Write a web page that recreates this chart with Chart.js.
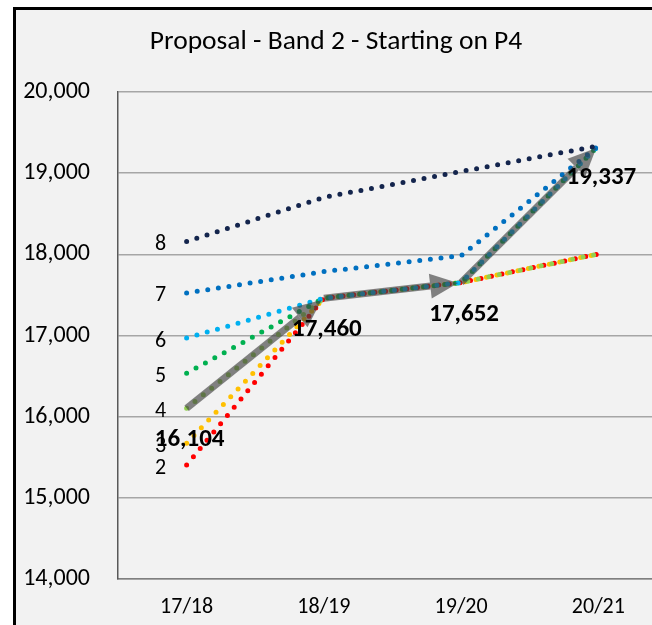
<!DOCTYPE html>
<html>
<head>
<meta charset="utf-8">
<script src="https://cdn.jsdelivr.net/npm/chart.js@4/dist/chart.umd.min.js"></script>
<style>
  html, body { margin: 0; padding: 0; background: #ffffff; width: 652px; height: 625px; overflow: hidden; }
  #frame { position: absolute; left: 13px; top: 7px; width: 700px; height: 700px; background: #f2f2f2;
           border-left: 3px solid #000; border-top: 3px solid #000; box-sizing: border-box; }
  #wrap { position: absolute; left: 0; top: 0; width: 700px; height: 625px; }
</style>
</head>
<body>
<div id="frame"></div>
<div id="wrap"><canvas id="c" width="700" height="625"></canvas></div>
<script>
const chartTitle = 'Proposal - Band 2 - Starting on P4';
const categories = ['17/18', '18/19', '19/20', '20/21'];
const point2 = [15404, 17460, 17652, 18005];
const point3 = [15671, 17460, 17652, 18005];
const point4 = [16104, 17460, 17652, 18005];
const point5 = [16536, 17460, 17652, 19337];
const point6 = [16968, 17460, 17652, 19337];
const point7 = [17524, 17787, 17983, 19337];
const point8 = [18157, 18702, 19020, 19337];
const progression = [16104, 17460, 17652, 19337];
const seriesNames = ['2', '3', '4', '5', '6', '7', '8'];
const seriesColors = ['#ff0000', '#ffc000', '#92d050', '#00b050', '#00b0f0', '#0070c0', '#14254d'];
const yTickValues = [14000, 15000, 16000, 17000, 18000, 19000, 20000];

const seriesData = [point2, point3, point4, point5, point6, point7, point8];
const FONT = 'Carlito, Lato, "Liberation Sans", sans-serif';

const datasets = seriesData.map((d, i) => ({
  label: seriesNames[i],
  data: d,
  order: seriesData.length - i,
  borderColor: seriesColors[i],
  borderWidth: 5,
  borderDash: [0, 10.7],
  borderCapStyle: 'round',
  pointRadius: 0,
  tension: 0,
  fill: false
}));

const overlayPlugin = {
  id: 'overlay',
  afterDatasetsDraw(chart) {
    const ctx = chart.ctx;
    const xs = chart.scales.x, ys = chart.scales.y;
    const pts = progression.map((v, i) => ({ x: xs.getPixelForValue(i), y: ys.getPixelForValue(v) }));
    ctx.save();
    const col = 'rgba(64,64,64,0.64)';
    const headLen = 28, headHalf = 12.5, gap = 3;
    for (let i = 0; i < pts.length - 1; i++) {
      const a = pts[i], b = pts[i + 1];
      const dx = b.x - a.x, dy = b.y - a.y;
      const L = Math.hypot(dx, dy);
      const ux = dx / L, uy = dy / L;
      const tip = { x: b.x - ux * gap, y: b.y - uy * gap };
      const base = { x: tip.x - ux * headLen, y: tip.y - uy * headLen };
      ctx.strokeStyle = col;
      ctx.lineWidth = 7;
      ctx.lineCap = 'butt';
      ctx.beginPath();
      ctx.moveTo(a.x, a.y);
      ctx.lineTo(base.x, base.y);
      ctx.stroke();
      ctx.fillStyle = col;
      ctx.beginPath();
      ctx.moveTo(tip.x, tip.y);
      ctx.lineTo(base.x - uy * headHalf, base.y + ux * headHalf);
      ctx.lineTo(base.x + uy * headHalf, base.y - ux * headHalf);
      ctx.closePath();
      ctx.fill();
    }
    ctx.fillStyle = '#000';
    ctx.textAlign = 'center';
    ctx.textBaseline = 'middle';
    ctx.font = '22px ' + FONT;
    seriesData.forEach((d, i) => {
      const x = xs.getPixelForValue(0) - 26;
      const y = ys.getPixelForValue(d[0]) + 3;
      ctx.fillText(seriesNames[i], x, y);
    });
    ctx.font = 'bold 25px ' + FONT;
    progression.forEach((v, i) => {
      ctx.fillText(v.toLocaleString('en-US'), pts[i].x + 3, pts[i].y + 32);
    });
    ctx.font = '27.5px ' + FONT;
    ctx.fillText(chartTitle, 336, 42);
    ctx.restore();
  }
};

new Chart(document.getElementById('c'), {
  type: 'line',
  data: { labels: categories, datasets },
  options: {
    responsive: false,
    animation: false,
    layout: { padding: { top: 92, right: 33, bottom: 0, left: 0 } },
    plugins: { legend: { display: false }, tooltip: { enabled: false }, title: { display: false } },
    scales: {
      x: {
        type: 'category',
        offset: true,
        grid: { display: false, drawTicks: false },
        border: { display: true, color: '#7f7f7f', width: 1.5 },
        ticks: { color: '#000', font: { size: 22, family: FONT }, padding: 15, maxRotation: 0 },
        afterFit(scale) { scale.height = 46; }
      },
      y: {
        min: 14000, max: 20000,
        afterBuildTicks(scale) { scale.ticks = yTickValues.map(v => ({ value: v })); },
        grid: { color: '#a6a6a6', lineWidth: 1.5, drawTicks: false },
        border: { display: true, color: '#595959', width: 1.5 },
        ticks: { color: '#000', font: { size: 24, family: FONT }, padding: 28,
                 callback: v => Number(v).toLocaleString('en-US') },
        afterFit(scale) { scale.width = 118; }
      }
    }
  },
  plugins: [overlayPlugin]
});
</script>
</body>
</html>
